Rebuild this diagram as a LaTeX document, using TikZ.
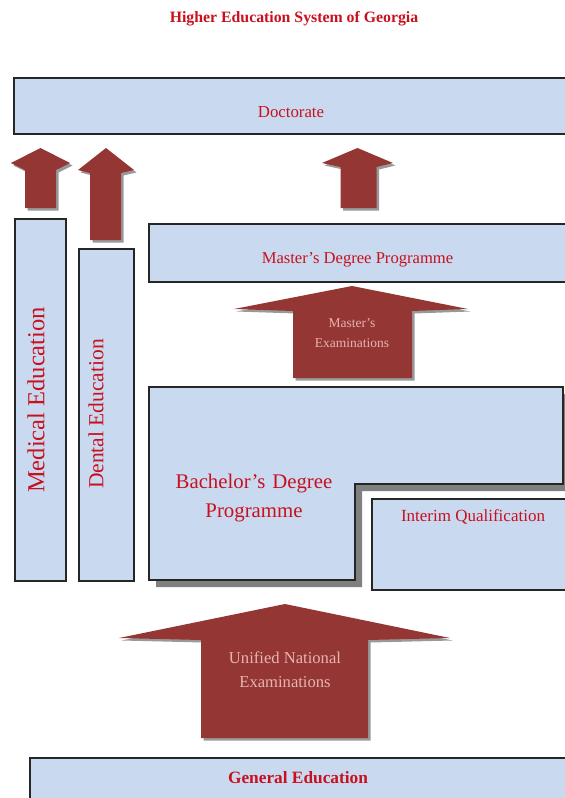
\documentclass[tikz,border=0pt]{standalone}
\usepackage{fontspec}
\setmainfont{Liberation Serif}
\usetikzlibrary{shadows}
\definecolor{boxblue}{HTML}{C9DAF0}
\definecolor{arrowred}{HTML}{943634}
\definecolor{labelred}{HTML}{C8101E}
\definecolor{pinktext}{HTML}{E8B4B0}
\definecolor{shadowgray}{HTML}{808080}
\newcommand\fsz[1]{\fontsize{#1}{#1}\selectfont}
\begin{document}
\begin{tikzpicture}[x=1pt,y=-1pt,
  box/.style={draw=black!85, line width=1.5pt, fill=boxblue, inner sep=0pt},
  lbl/.style={text=labelred, inner sep=0pt, align=center},
  arrtxt/.style={text=pinktext, inner sep=0pt, align=center},
  arrowbody/.style={fill=arrowred},
  arrowshadow/.style={fill=shadowgray, opacity=0.8}]
\useasboundingbox (0,0) rectangle (565,798);

% block arrow: tip x, tip y, head left, head right, corner y, shaft left, shaft right, join y, bottom y
\newcommand\blockarrowpath[9]{(#1,#2) -- (#4,#5) -- (#7,#8) -- (#7,#9) -- (#6,#9) -- (#6,#8) -- (#3,#5) -- cycle}
\newcommand\myblockarrow[9]{%
  \fill[arrowshadow, shift={(2.5,2.5)}] \blockarrowpath{#1}{#2}{#3}{#4}{#5}{#6}{#7}{#8}{#9};
  \fill[arrowbody] \blockarrowpath{#1}{#2}{#3}{#4}{#5}{#6}{#7}{#8}{#9};}

% title
\node[lbl, font=\fsz{15.8}\bfseries] (title) at (294,19) {Higher Education System of Georgia};

% Doctorate
\node[box, drop shadow={shadow xshift=1.5pt, shadow yshift=-1.5pt, fill=shadowgray}, anchor=north west, minimum width=570pt, minimum height=56pt] (doctorate) at (13,77) {};
\node[lbl, font=\fsz{16.8}] (doctxt) at (291,112) {Doctorate};

% arrows to doctorate
\myblockarrow{40.5}{148}{11}{70}{163}{25}{56}{170}{208}
\myblockarrow{106}{148}{78}{134}{170}{90}{121}{173}{240}
\myblockarrow{357.5}{148}{322}{393}{163}{340.5}{376.5}{167}{208}

% Medical and Dental
\node[box, drop shadow={shadow xshift=1pt, shadow yshift=-1pt, fill=shadowgray}, anchor=north west, minimum width=51pt, minimum height=362pt] (medical) at (14,218) {};
\node[lbl, font=\fsz{24.5}, rotate=90] (medtxt) at (36,400) {Medical Education};
\node[box, drop shadow={shadow xshift=1pt, shadow yshift=-1pt, fill=shadowgray}, anchor=north west, minimum width=55pt, minimum height=332pt] (dental) at (78,248) {};
\node[lbl, font=\fsz{21.5}, rotate=90] (dentxt) at (96,414) {Dental Education};

% Master's
\node[box, drop shadow={shadow xshift=1.5pt, shadow yshift=-1.5pt, fill=shadowgray}, anchor=north west, minimum width=430pt, minimum height=58pt] (master) at (148,223) {};
\node[lbl, font=\fsz{16.6}] (mastxt) at (357.5,260) {Master’s Degree Programme};

\myblockarrow{352}{286}{234}{468}{309}{293}{412}{311}{378}
\node[arrtxt, font=\fsz{13.5}] (mexam) at (352,333) {Master’s\\[6pt]Examinations};

% Bachelor's (L-shape)
\fill[shadowgray, shift={(7,7)}] (149,387) -- (563,387) -- (563,484) -- (355,484) -- (355,580) -- (149,580) -- cycle;
\draw[box] (149,387) -- (563,387) -- (563,484) -- (355,484) -- (355,580) -- (149,580) -- cycle;
\node[lbl, font=\fsz{20.8}, text width=170pt] (bachtxt) at (254,498) {Bachelor’s Degree\\[8pt]Programme};

% Interim
\node[box, anchor=north west, minimum width=210pt, minimum height=91pt] (interim) at (371,498) {};
\node[lbl, font=\fsz{17}] (inttxt) at (473,517) {Interim Qualification};

% Unified National Examinations arrow
\myblockarrow{285}{604}{119}{450}{638}{201}{368}{640}{738}
\node[arrtxt, font=\fsz{16.6}] (unified) at (285,670) {Unified National\\[7pt]Examinations};

% General Education
\node[box, drop shadow={shadow xshift=1.5pt, shadow yshift=-1.5pt, fill=shadowgray}, anchor=north west, minimum width=550pt, minimum height=60pt] (general) at (29,757) {};
\node[lbl, font=\fsz{17.3}\bfseries] (gentxt) at (298,778) {General Education};
\end{tikzpicture}
\end{document}
